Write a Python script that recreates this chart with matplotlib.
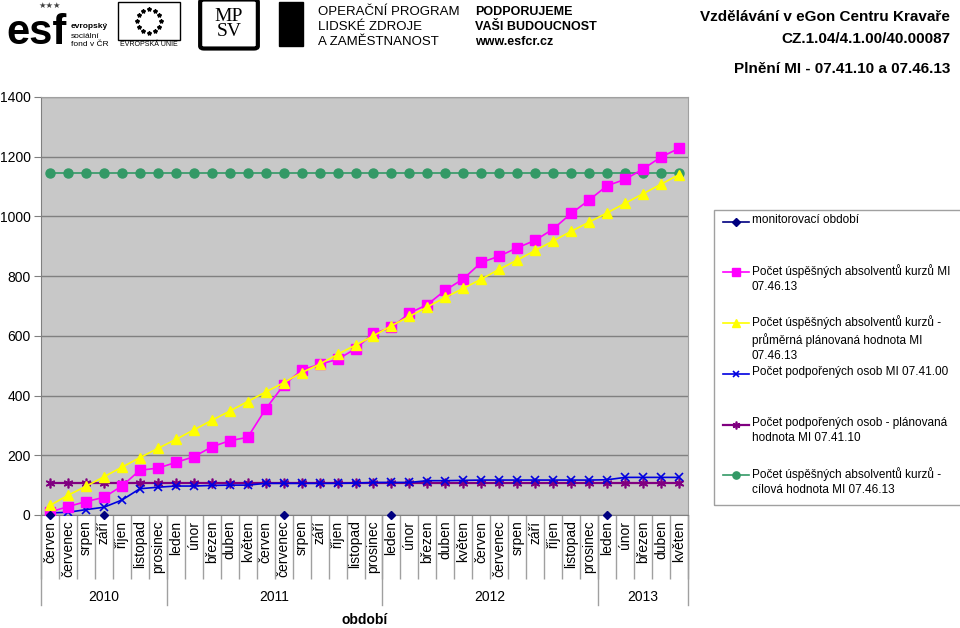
import numpy as np
import matplotlib
matplotlib.use("Agg")
import matplotlib.pyplot as plt
from matplotlib.lines import Line2D
from matplotlib.patches import Rectangle, FancyBboxPatch
import matplotlib.transforms as mtransforms

plt.rcParams['font.family'] = ['Liberation Sans', 'DejaVu Sans']

# --- data -------------------------------------------------------------
months = ['červen', 'červenec', 'srpen', 'září', 'říjen', 'listopad', 'prosinec',
          'leden', 'únor', 'březen', 'duben', 'květen', 'červen', 'červenec',
          'srpen', 'září', 'říjen', 'listopad', 'prosinec',
          'leden', 'únor', 'březen', 'duben', 'květen', 'červen', 'červenec',
          'srpen', 'září', 'říjen', 'listopad', 'prosinec',
          'leden', 'únor', 'březen', 'duben', 'květen']
years = ['2010', '2011', '2012', '2013']
year_counts = [7, 12, 12, 5]

# monitorovací období (only at a few months, value 0)
monitor_idx = [0, 3, 13, 19, 31]
monitor_val = [0, 0, 0, 0, 0]

absolventi = [10, 28, 45, 59, 97, 150, 157,
              176, 195, 228, 249, 260, 355, 435, 485, 505, 521, 557, 608,
              628, 676, 705, 753, 791, 846, 867, 895, 920, 958, 1010, 1055,
              1103, 1124, 1159, 1199, 1228]
absolventi_plan = [32, 66, 96, 128, 160, 192, 223,
                   253, 285, 317, 348, 380, 412, 443, 477, 505, 538, 569, 600,
                   634, 665, 697, 729, 759, 790, 823, 854, 886, 918, 950, 981,
                   1012, 1044, 1076, 1108, 1140]
podporeni = [7, 9, 18, 26, 50, 88, 93,
             97, 97, 99, 100, 100, 106, 106, 106, 106, 106, 107, 109,
             109, 109, 115, 115, 116, 117, 117, 117, 117, 117, 117, 117,
             118, 126, 126, 126, 126]
podporeni_plan = [107] * 36
absolventi_cil = [1144] * 36

labels = ['monitorovací období',
          'Počet úspěšných absolventů kurzů MI\n07.46.13',
          'Počet úspěšných absolventů kurzů -\nprůměrná plánovaná hodnota MI\n07.46.13',
          'Počet podpořených osob MI 07.41.00',
          'Počet podpořených osob - plánovaná\nhodnota MI 07.41.10',
          'Počet úspěšných absolventů kurzů -\ncílová hodnota MI 07.46.13']

W, H = 960, 628


def px(x, y):
    return x / W, 1 - y / H


fig = plt.figure(figsize=(W / 100, H / 100), dpi=100)
ax = fig.add_axes([41 / W, 1 - 515 / H, (688 - 41) / W, (515 - 97) / H])
ax.set_facecolor('#C8C8C8')

x = np.arange(len(months))
styles = [
    dict(color='#000080', marker='D', ms=4.5, lw=1.2),
    dict(color='#FF00FF', marker='s', ms=6.5, lw=1.2),
    dict(color='#FFFF00', marker='^', ms=6.5, lw=1.2),
    dict(color='#0000E0', marker='x', ms=6, mew=1.2, lw=1.2),
    dict(color='#800080', marker=(6, 2, 0), ms=7, mew=1.2, lw=1.6),
    dict(color='#339966', marker='o', ms=6.5, lw=1.2),
]

ax.plot(x, absolventi_cil, **styles[5], zorder=3)
ax.plot(x, podporeni_plan, **styles[4], zorder=3)
ax.plot(x, podporeni, **styles[3], zorder=4)
ax.plot(x, absolventi, **styles[1], zorder=4)
ax.plot(x, absolventi_plan, **styles[2], zorder=5)
ax.plot(monitor_idx, monitor_val, linestyle='none', color='#000080',
        marker='D', ms=4.5, zorder=6, clip_on=False)

ax.set_xlim(-0.5, len(months) - 0.5)
ax.set_ylim(0, 1400)
ax.set_yticks(np.arange(0, 1401, 200))
ax.yaxis.grid(True, color='#808080', lw=1)
ax.set_axisbelow(True)
ax.tick_params(axis='y', labelsize=10, length=5, color='#808080', pad=2.5)

ax.set_xticks(x)
ax.set_xticklabels(months, rotation=90, fontsize=10)
ax.tick_params(axis='x', length=0, pad=4)
ax.set_xticks(np.arange(-0.5, len(months), 1.0), minor=True)
ax.tick_params(axis='x', which='minor', length=46, width=1, color='#A0A0A0')

for s in ['top', 'right']:
    ax.spines[s].set_color('#A0A0A0')
for s in ['left', 'bottom']:
    ax.spines[s].set_color('#808080')

# year row
trans = mtransforms.blended_transform_factory(ax.transData, ax.transAxes)
edges = np.concatenate([[0], np.cumsum(year_counts)]) - 0.5
for e in edges:
    ax.add_line(Line2D([e, e], [0, -0.215], transform=trans, color='#A0A0A0',
                       lw=1, clip_on=False))
for i, yr in enumerate(years):
    ax.text((edges[i] + edges[i + 1]) / 2, -0.196, yr, transform=trans,
            ha='center', va='center', fontsize=10)
fig.text(*px(365, 620), 'období', ha='center', va='center', fontsize=10,
         fontweight='bold')

# legend box (drawn by hand to match the Excel layout)
fig.add_artist(Rectangle(px(714, 505), (980 - 714) / W, (505 - 210) / H,
                         transform=fig.transFigure, fill=False,
                         edgecolor='#A0A0A0', lw=1))
entry_y = [222, 272, 323, 374, 425, 475]
for st, lab, yy in zip(styles, labels, entry_y):
    x0, y0 = px(723, yy)
    x1, _ = px(749, yy)
    fig.add_artist(Line2D([x0, x1], [y0, y0], transform=fig.transFigure,
                          color=st['color'], lw=st['lw']))
    fig.add_artist(Line2D([(x0 + x1) / 2], [y0], transform=fig.transFigure,
                          color=st['color'], marker=st['marker'],
                          ms=st['ms'] * 0.8, mew=st.get('mew', 1)))
    fig.text(*px(752, yy - 8), lab, ha='left', va='top', fontsize=8.5,
             linespacing=1.35)

# header
fig.text(*px(950, 17), 'Vzdělávání v eGon Centru Kravaře', ha='right',
         va='center', fontsize=11, fontweight='bold')
fig.text(*px(950, 39), 'CZ.1.04/4.1.00/40.00087', ha='right', va='center',
         fontsize=11, fontweight='bold')
fig.text(*px(950, 69), 'Plnění MI - 07.41.10 a 07.46.13', ha='right',
         va='center', fontsize=11, fontweight='bold')

fig.text(*px(6, 33), 'esf', ha='left', va='center', fontsize=30,
         fontweight='bold')
fig.text(*px(38, 5), '★★★', ha='left', va='center', fontsize=6,
         family=['DejaVu Sans'], color='#404040')
fig.text(*px(71, 27), 'evropský', ha='left', va='center', fontsize=6,
         fontweight='bold')
fig.text(*px(71, 36), 'sociální', ha='left', va='center', fontsize=6)
fig.text(*px(71, 45), 'fond v ČR', ha='left', va='center', fontsize=6)

fig.add_artist(Rectangle(px(118, 40), 62 / W, 38 / H, transform=fig.transFigure,
                         fill=False, edgecolor='black', lw=1))
ang = np.linspace(0, 2 * np.pi, 12, endpoint=False)
cx, cy = px(149, 21)
fig.add_artist(Line2D(cx + 12 * np.cos(ang) / W, cy + 12 * np.sin(ang) / H,
                      transform=fig.transFigure, ls='none', marker='*',
                      ms=3, color='black'))
fig.text(*px(149, 45), 'EVROPSKÁ UNIE', ha='center', va='center', fontsize=5)

fig.add_artist(FancyBboxPatch(px(204, 46), 50 / W, 44 / H,
                              boxstyle='round,pad=0.004',
                              transform=fig.transFigure, facecolor='white',
                              edgecolor='black', lw=3))
fig.text(*px(229, 24), 'MP\nSV', ha='center', va='center', fontsize=14,
         family='Liberation Serif', linespacing=0.9)
fig.add_artist(Rectangle(px(279, 46), 24 / W, 44 / H, transform=fig.transFigure,
                         facecolor='black', edgecolor='black'))

fig.text(*px(318, 12), 'OPERAČNÍ PROGRAM', ha='left', va='center', fontsize=9.5)
fig.text(*px(318, 27), 'LIDSKÉ ZDROJE', ha='left', va='center', fontsize=9.5)
fig.text(*px(318, 42), 'A ZAMĚSTNANOST', ha='left', va='center', fontsize=9.5)
fig.text(*px(475, 12), 'PODPORUJEME', ha='left', va='center', fontsize=9,
         fontweight='bold')
fig.text(*px(475, 27), 'VAŠI BUDOUCNOST', ha='left', va='center', fontsize=9,
         fontweight='bold')
fig.text(*px(475, 42), 'www.esfcr.cz', ha='left', va='center', fontsize=9,
         fontweight='bold')

fig.savefig('out.png', dpi=100)
